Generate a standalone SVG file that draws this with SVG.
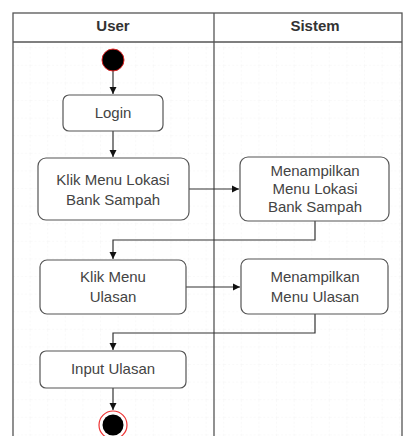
<svg xmlns="http://www.w3.org/2000/svg" width="403" height="436" viewBox="0 0 403 436">
<defs>
<style>
.lane{fill:none;stroke:#555;stroke-width:1.3}
.box{fill:#fff;stroke:#555;stroke-width:1.2}
.t{font-family:"Liberation Sans",Arial,sans-serif;font-size:15px;fill:#444;text-anchor:middle}
.h{font-family:"Liberation Sans",Arial,sans-serif;font-size:15px;font-weight:bold;fill:#333;text-anchor:middle}
.c{fill:none;stroke:#333;stroke-width:1.2;marker-end:url(#arr)}
</style>
<marker id="arr" markerWidth="8" markerHeight="8" refX="7" refY="4" orient="auto" markerUnits="userSpaceOnUse">
<path d="M0,0.5 L7,4 L0,7.5 Z" fill="#111"/>
</marker>
<pattern id="grid" width="17.6" height="17.6" patternUnits="userSpaceOnUse" x="13" y="13">
<path d="M17.6,0 V17.6 M0,17.6 H17.6" fill="none" stroke="#f4f4f4" stroke-width="1" stroke-dasharray="2,2"/>
</pattern>
</defs>
<rect x="0" y="0" width="403" height="436" fill="#fff"/>
<rect x="13" y="42" width="389" height="400" fill="url(#grid)"/>
<g id="swimlanes">
<rect class="lane" x="13" y="13" width="389" height="430"/>
<line class="lane" x1="13" y1="42" x2="402" y2="42"/>
<line class="lane" x1="214" y1="13" x2="214" y2="436"/>
<text class="h" x="113" y="31">User</text>
<text class="h" x="315" y="31">Sistem</text>
</g>
<g id="connectors">
<path class="c" d="M113,71 V94"/>
<path class="c" d="M113,131 V157"/>
<path class="c" d="M189,189 H239"/>
<path class="c" d="M315,221 V240 H113 V259"/>
<path class="c" d="M186,287 H240"/>
<path class="c" d="M315,314 V333 H113 V350"/>
<path class="c" d="M113,388 V410"/>
</g>
<g id="start">
<circle cx="113" cy="60" r="11" fill="#000" stroke="#d22" stroke-width="1"/>
</g>
<g id="login">
<rect class="box" x="63" y="95" width="100" height="36" rx="6"/>
<text class="t" x="113" y="118">Login</text>
</g>
<g id="klik-lokasi">
<rect class="box" x="38" y="158" width="151" height="62" rx="8"/>
<text class="t" x="113" y="185">Klik Menu Lokasi</text>
<text class="t" x="113" y="205">Bank Sampah</text>
</g>
<g id="tampil-lokasi">
<rect class="box" x="240" y="157" width="149" height="64" rx="8"/>
<text class="t" x="315" y="176">Menampilkan</text>
<text class="t" x="315" y="194">Menu Lokasi</text>
<text class="t" x="315" y="212">Bank Sampah</text>
</g>
<g id="klik-ulasan">
<rect class="box" x="40" y="260" width="146" height="54" rx="7"/>
<text class="t" x="113" y="282">Klik Menu</text>
<text class="t" x="113" y="302">Ulasan</text>
</g>
<g id="tampil-ulasan">
<rect class="box" x="241" y="259" width="147" height="55" rx="7"/>
<text class="t" x="315" y="282">Menampilkan</text>
<text class="t" x="315" y="302">Menu Ulasan</text>
</g>
<g id="input-ulasan">
<rect class="box" x="40" y="351" width="146" height="37" rx="6"/>
<text class="t" x="113" y="374">Input Ulasan</text>
</g>
<g id="end">
<circle cx="113" cy="425" r="14" fill="#fff" stroke="#e33" stroke-width="1.2"/>
<circle cx="113" cy="425" r="10.5" fill="#000"/>
</g>
</svg>
